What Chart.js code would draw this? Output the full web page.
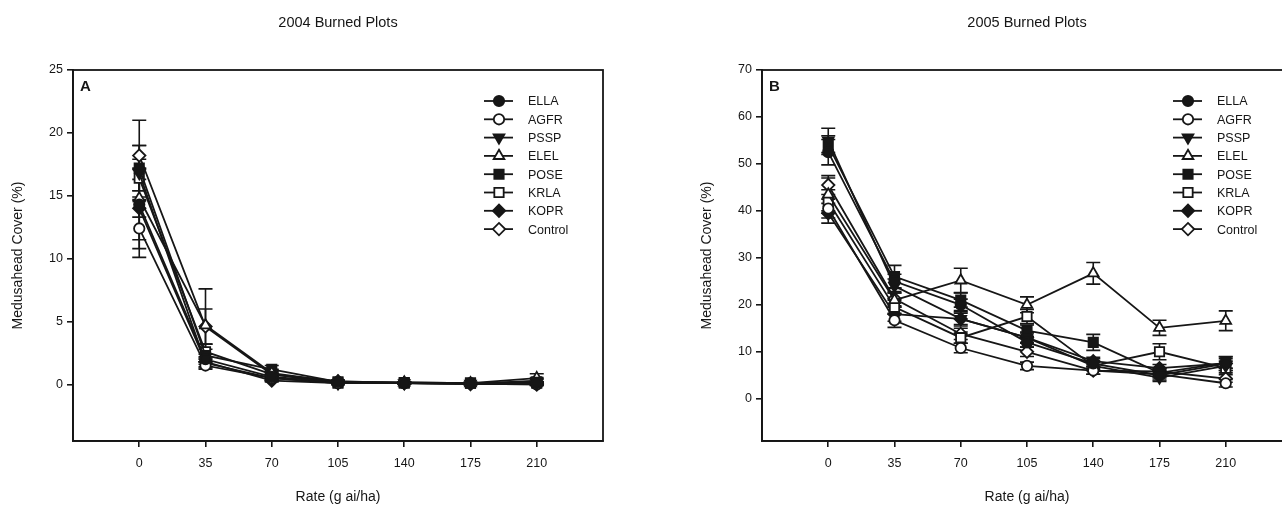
<!DOCTYPE html>
<html>
<head>
<meta charset="utf-8">
<script src="https://cdn.jsdelivr.net/npm/chart.js@4.4.0/dist/chart.umd.min.js"></script>
<style>
  html, body { margin: 0; padding: 0; background: #fff; overflow: hidden; width: 1282px; height: 508px; }
  canvas { position: absolute; top: 0; }
  #chartA { left: 0; }
  #chartB { left: 689px; }
</style>
</head>
<body>
<canvas id="chartA" width="641" height="508"></canvas>
<canvas id="chartB" width="641" height="508"></canvas>
<script>
const rates = [0, 35, 70, 105, 140, 175, 210];
const seriesNames = ["ELLA", "AGFR", "PSSP", "ELEL", "POSE", "KRLA", "KOPR", "Control"];

// 2004 burned plots (mean cover %, and SE)
const ella2004 = [14.3, 2.0, 0.6, 0.2, 0.1, 0.1, 0.1];
const agfr2004 = [12.4, 1.5, 0.5, 0.1, 0.1, 0.05, 0.0];
const pssp2004 = [16.8, 1.7, 0.5, 0.1, 0.1, 0.05, 0.3];
const elel2004 = [14.8, 4.7, 0.9, 0.2, 0.15, 0.1, 0.5];
const pose2004 = [17.2, 2.3, 1.2, 0.2, 0.15, 0.1, 0.2];
const krla2004 = [16.4, 2.6, 0.8, 0.1, 0.1, 0.1, 0.1];
const kopr2004 = [14.0, 1.8, 0.3, 0.1, 0.1, 0.05, 0.1];
const control2004 = [18.2, 4.6, 0.8, 0.25, 0.1, 0.05, 0.0];

const ella2004Err = [2.8, 0.4, 0.2, 0.05, 0.05, 0.05, 0.1];
const agfr2004Err = [2.3, 0.3, 0.2, 0.05, 0.05, 0.05, 0.1];
const pssp2004Err = [2.2, 0.4, 0.2, 0.05, 0.05, 0.05, 0.2];
const elel2004Err = [1.5, 2.9, 0.3, 0.05, 0.05, 0.05, 0.35];
const pose2004Err = [1.8, 0.5, 0.3, 0.05, 0.05, 0.05, 0.2];
const krla2004Err = [1.5, 0.6, 0.2, 0.05, 0.05, 0.05, 0.1];
const kopr2004Err = [3.2, 0.4, 0.1, 0.05, 0.05, 0.05, 0.1];
const control2004Err = [2.8, 1.4, 0.3, 0.1, 0.05, 0.05, 0.05];

// 2005 burned plots
const ella2005 = [52.5, 25.0, 20.0, 12.0, 7.5, 5.0, 7.5];
const agfr2005 = [40.5, 16.7, 10.8, 7.0, 6.0, 5.2, 3.3];
const pssp2005 = [55.0, 24.0, 17.0, 13.0, 7.0, 4.5, 7.0];
const elel2005 = [43.5, 21.0, 25.2, 20.0, 26.7, 15.1, 16.6];
const pose2005 = [54.0, 26.0, 21.0, 14.5, 12.0, 5.5, 7.7];
const krla2005 = [42.0, 19.5, 13.0, 17.5, 7.0, 10.0, 6.5];
const kopr2005 = [39.5, 18.0, 17.0, 13.0, 8.0, 6.5, 7.5];
const control2005 = [45.5, 21.3, 13.8, 10.0, 6.0, 5.8, 4.3];

const ella2005Err = [2.7, 1.5, 1.2, 1.0, 1.0, 1.0, 1.5];
const agfr2005Err = [2.0, 1.5, 1.0, 0.8, 0.8, 0.8, 0.8];
const pssp2005Err = [2.6, 1.5, 1.5, 1.2, 1.0, 0.8, 1.0];
const elel2005Err = [3.5, 1.5, 2.6, 1.7, 2.3, 1.6, 2.1];
const pose2005Err = [2.0, 2.4, 1.5, 1.2, 1.7, 0.8, 1.2];
const krla2005Err = [2.5, 1.5, 1.2, 1.5, 0.8, 1.7, 1.0];
const kopr2005Err = [2.1, 1.5, 1.2, 1.0, 0.8, 0.8, 1.0];
const control2005Err = [2.0, 1.5, 1.2, 1.0, 0.8, 0.8, 0.8];

// marker look per series
const markerStyles = ["circle", "circle", "triangle", "triangle", "rect", "rect", "rectRot", "rectRot"];
const markerFilled = [true, false, true, false, true, false, true, false];
const markerRotation = [0, 0, 180, 0, 0, 0, 0, 0];
const markerRadius = [5.2, 5.2, 6.2, 6.2, 6.6, 6.6, 6.2, 6.2];

const FONT = "'Liberation Sans', Arial, Helvetica, sans-serif";
const INK = "#161616";

function buildDatasets(values, errors) {
  return values.map((vals, i) => ({
    label: seriesNames[i],
    data: rates.map((r, j) => ({ x: r, y: vals[j] })),
    errors: errors[i],
    borderColor: INK,
    borderWidth: 1.8,
    backgroundColor: markerFilled[i] ? INK : "#fff",
    pointBackgroundColor: markerFilled[i] ? INK : "#fff",
    pointBorderColor: INK,
    pointBorderWidth: 1.8,
    pointStyle: markerStyles[i],
    pointRotation: markerRotation[i],
    pointRadius: markerRadius[i],
    pointHoverRadius: markerRadius[i],
    tension: 0,
    fill: false,
  }));
}

// error bars drawn under the lines and markers
const errorBars = {
  id: "errorBars",
  beforeDatasetsDraw(chart) {
    const ctx = chart.ctx;
    const xs = chart.scales.x;
    const ys = chart.scales.y;
    ctx.save();
    ctx.strokeStyle = INK;
    ctx.lineWidth = 1.6;
    chart.data.datasets.forEach((ds) => {
      ds.data.forEach((p, i) => {
        const e = ds.errors[i];
        if (!e) return;
        const x = xs.getPixelForValue(p.x);
        const yTop = ys.getPixelForValue(p.y + e);
        const yBot = ys.getPixelForValue(p.y - e);
        ctx.beginPath();
        ctx.moveTo(x, yTop);
        ctx.lineTo(x, yBot);
        ctx.moveTo(x - 7, yTop);
        ctx.lineTo(x + 7, yTop);
        ctx.moveTo(x - 7, yBot);
        ctx.lineTo(x + 7, yBot);
        ctx.stroke();
      });
    });
    ctx.restore();
  },
};

// box, panel letter, title and the legend
const frame = {
  id: "frame",
  afterDraw(chart, args, opts) {
    const ctx = chart.ctx;
    const a = chart.chartArea;
    ctx.save();
    ctx.strokeStyle = INK;
    ctx.lineWidth = 1.8;
    ctx.strokeRect(a.left, a.top, a.right - a.left, a.bottom - a.top);

    ctx.fillStyle = INK;
    ctx.font = "bold 15px " + FONT;
    ctx.textAlign = "left";
    ctx.textBaseline = "middle";
    ctx.fillText(opts.letter, a.left + 7, 87);

    ctx.font = "14.5px " + FONT;
    ctx.textAlign = "center";
    ctx.fillText(opts.title, (a.left + a.right) / 2, 23);

    // legend
    ctx.font = "12.5px " + FONT;
    ctx.textAlign = "left";
    ctx.lineWidth = 1.8;
    chart.data.datasets.forEach((ds, i) => {
      const y = 101 + i * 18.3;
      const x0 = opts.legendX;
      ctx.beginPath();
      ctx.moveTo(x0, y);
      ctx.lineTo(x0 + 29, y);
      ctx.stroke();
      ctx.fillStyle = ds.pointBackgroundColor;
      Chart.helpers.drawPoint(ctx, {
        pointStyle: ds.pointStyle,
        rotation: ds.pointRotation,
        radius: ds.pointRadius,
        borderWidth: 1.8,
      }, x0 + 15, y);
      ctx.fillStyle = INK;
      ctx.fillText(ds.label, x0 + 44, y + 1);
    });
    ctx.restore();
  },
};

function makeChart(id, values, errors, yMin, yMax, yStep, letter, title, legendX) {
  return new Chart(document.getElementById(id), {
    type: "line",
    data: { datasets: buildDatasets(values, errors) },
    plugins: [errorBars, frame],
    options: {
      responsive: false,
      animation: false,
      layout: { padding: { left: 0, top: 70, right: 38, bottom: 0 } },
      plugins: {
        legend: { display: false },
        tooltip: { enabled: false },
        frame: { letter: letter, title: title, legendX: legendX },
      },
      scales: {
        x: {
          type: "linear",
          min: -35,
          max: 245,
          afterBuildTicks: (s) => { s.ticks = rates.map((r) => ({ value: r })); },
          afterFit: (s) => { s.height = 67; },
          ticks: { stepSize: 35, padding: 9, color: INK, font: { family: FONT, size: 12.5 } },
          grid: { drawOnChartArea: false, tickLength: 6, color: INK, lineWidth: 1.6 },
          border: { color: INK, width: 1.8 },
          title: { display: true, text: "Rate (g ai/ha)", color: INK, font: { family: FONT, size: 14 }, padding: { top: 0, bottom: 2 } },
        },
        y: {
          min: yMin,
          max: yMax,
          afterBuildTicks: (s) => {
            const t = [];
            for (let v = 0; v <= yMax; v += yStep) t.push({ value: v });
            s.ticks = t;
          },
          afterFit: (s) => { s.width = 73; },
          ticks: { padding: 4, color: INK, font: { family: FONT, size: 12.5 } },
          grid: { drawOnChartArea: false, tickLength: 6, color: INK, lineWidth: 1.6 },
          border: { color: INK, width: 1.8 },
          title: { display: true, text: "Medusahead Cover (%)", color: INK, font: { family: FONT, size: 14 }, padding: { top: 10, bottom: 0 } },
        },
      },
    },
  });
}

makeChart("chartA",
  [ella2004, agfr2004, pssp2004, elel2004, pose2004, krla2004, kopr2004, control2004],
  [ella2004Err, agfr2004Err, pssp2004Err, elel2004Err, pose2004Err, krla2004Err, kopr2004Err, control2004Err],
  -4.5, 25, 5, "A", "2004 Burned Plots", 484);

makeChart("chartB",
  [ella2005, agfr2005, pssp2005, elel2005, pose2005, krla2005, kopr2005, control2005],
  [ella2005Err, agfr2005Err, pssp2005Err, elel2005Err, pose2005Err, krla2005Err, kopr2005Err, control2005Err],
  -9, 70, 10, "B", "2005 Burned Plots", 1173 - 689);
</script>
</body>
</html>
